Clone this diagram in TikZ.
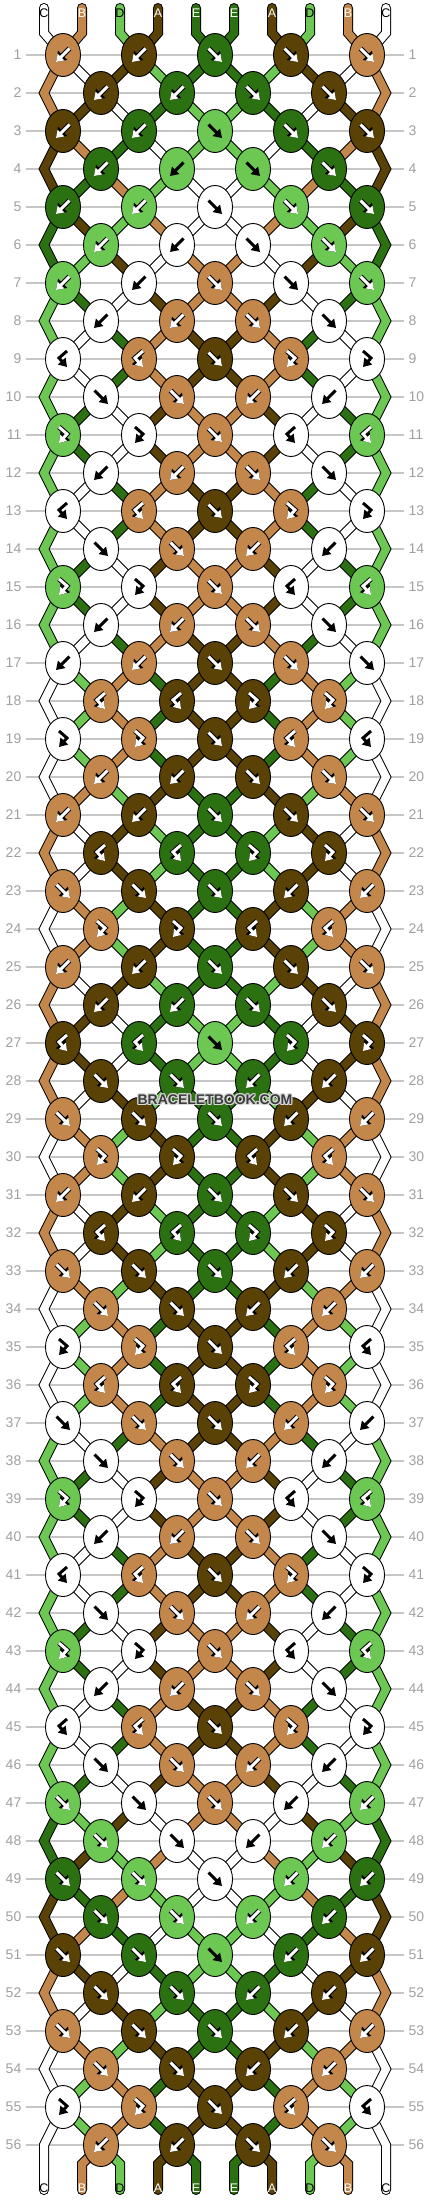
\documentclass[tikz,border=0pt]{standalone}
\usepackage{fontspec}
\setmainfont{Liberation Sans}
\usetikzlibrary{arrows.meta}
\definecolor{colA}{HTML}{5A4105}
\definecolor{colB}{HTML}{C4874B}
\definecolor{colC}{HTML}{FFFFFF}
\definecolor{colD}{HTML}{6CC853}
\definecolor{colE}{HTML}{2C7111}
\definecolor{rowgray}{HTML}{C6C6C6}
\definecolor{numgray}{HTML}{A0A0A0}
\definecolor{wmark}{HTML}{3C3C3C}
\tikzset{
  knot/.style={draw=black, line width=0.9pt},
  strout/.style={draw=black, line width=10pt, line cap=round, line join=miter},
  strin/.style={draw=#1, line width=8pt, line cap=round, line join=miter},
  arrowout/.style={draw=black, line width=5pt, -{Triangle[length=9.5pt,width=12.5pt]}},
  arrowin/.style={draw=white, line width=3pt, -{Triangle[length=7pt,width=9pt]}},
  arrowblk/.style={draw=black, line width=3pt, -{Triangle[length=8pt,width=10pt]}},
  rownum/.style={text=numgray, font=\fontsize{14}{14}\selectfont, inner sep=0pt},
  strlab/.style={font=\fontsize{12.5}{12.5}\selectfont, inner sep=0pt},
  wm/.style={font=\bfseries\fontsize{14}{14}\selectfont, inner sep=0pt},
}
\def\strcol#1{\ifcase#1 colC\or colB\or colD\or colA\or colE\or colE\or colA\or colD\or colB\or colC\fi}
\def\colCname{colC}
\def\colDname{colD}
\def\appendpath#1#2{\expandafter\xdef\csname kpath#1\endcsname{\csname kpath#1\endcsname\space -- #2}}
\def\doswap{\expandafter\xdef\csname at\kp\endcsname{\sidR}\expandafter\xdef\csname at\kq\endcsname{\sidL}}
\newcommand\drawknot[5]{%
  \filldraw[knot, fill=#3] (#1,#2) ellipse [x radius=17.5pt, y radius=21.5pt];
  \csname knarr#4\endcsname{#1}{#2}{#5}}
\newcommand\knarrf[3]{\knarrow{#3}{(#1-6.5,#2-6.5) -- (#1+7,#2+7)}}
\newcommand\knarrb[3]{\knarrow{#3}{(#1+6.5,#2-6.5) -- (#1-7,#2+7)}}
\newcommand\knarrr[3]{\knarrow{#3}{(#1-4,#2-8) -- (#1+4,#2-1) -- (#1-4,#2+8)}}
\newcommand\knarrl[3]{\knarrow{#3}{(#1+4,#2-8) -- (#1-4,#2-1) -- (#1+4,#2+8)}}
\newcommand\knarrow[2]{\csname knarrow#1\endcsname{#2}}
\newcommand\knarroww[1]{\draw[arrowout] #1; \draw[arrowin] #1;}
\newcommand\knarrowk[1]{\draw[arrowblk] #1;}
\begin{document}
\begin{tikzpicture}[x=1pt,y=-1pt]
\fill[white] (0,0) rectangle (430,2200);
\useasboundingbox (0,0) rectangle (430,2200);
% ---- simulation ----
\foreach \p in {0,...,9}{%
  \pgfmathsetmacro\xp{44+38*\p}%
  \expandafter\xdef\csname at\p\endcsname{\p}%
  \expandafter\xdef\csname kpath\p\endcsname{(\xp,8) -- (\xp,33)}%
}
\gdef\knotlist{}
\foreach \ktypes [count=\rr] in {
 {b,b,f,f,f},{b,b,f,f},{b,b,f,f,f},{b,b,f,f},{b,b,f,f,f},{b,b,f,f},{b,b,f,f,f},{b,b,f,f},
 {l,l,f,r,r},{f,f,b,b},{r,r,f,l,l},{b,b,f,f},{l,l,f,r,r},{f,f,b,b},{r,r,f,l,l},{b,b,f,f},
 {b,b,f,f,f},{l,l,r,r},{r,r,f,l,l},{b,b,f,f},{b,b,f,f,f},{l,l,r,r},{f,f,f,b,b},{r,r,l,l},
 {b,b,f,f,f},{b,b,f,f},{l,l,f,r,r},{f,f,b,b},{f,f,f,b,b},{r,r,l,l},{b,b,f,f,f},{l,l,r,r},
 {f,f,f,b,b},{f,f,b,b},{r,r,f,l,l},{l,l,r,r},{f,f,f,b,b},{f,f,b,b},{r,r,f,l,l},{b,b,f,f},
 {l,l,f,r,r},{f,f,b,b},{r,r,f,l,l},{b,b,f,f},{l,l,f,r,r},{f,f,b,b},{f,f,f,b,b},{f,f,b,b},
 {f,f,f,b,b},{f,f,b,b},{f,f,f,b,b},{f,f,b,b},{f,f,f,b,b},{f,f,b,b},{r,r,f,l,l},{b,b,f,f}}{%
  \pgfmathsetmacro\y{55+38*(\rr-1)}%
  \pgfmathtruncatemacro\rowoff{mod(\rr+1,2)}%
  \ifnum\rowoff=1
    \edef\sidL{\csname at0\endcsname}\appendpath{\sidL}{(44,\y)}%
    \edef\sidR{\csname at9\endcsname}\appendpath{\sidR}{(386,\y)}%
  \fi
  \foreach \ktype [count=\kk] in \ktypes {%
    \pgfmathtruncatemacro\kp{2*(\kk-1)+\rowoff}%
    \pgfmathtruncatemacro\kq{\kp+1}%
    \pgfmathsetmacro\cx{63+76*(\kk-1)+38*\rowoff}%
    \edef\sidL{\csname at\kp\endcsname}%
    \edef\sidR{\csname at\kq\endcsname}%
    \appendpath{\sidL}{(\cx,\y)}%
    \appendpath{\sidR}{(\cx,\y)}%
    \edef\kc{\if\ktype f\strcol{\sidL}\else\if\ktype r\strcol{\sidL}\else\strcol{\sidR}\fi\fi}%
    \def\ac{w}%
    \ifx\kc\colCname\def\ac{k}\fi
    \ifx\kc\colDname
      \ifnum\rr=4 \def\ac{k}\fi
      \ifnum\rowoff=0 \ifnum\kk=3 \def\ac{k}\fi\fi
    \fi
    \xdef\knotlist{\unexpanded\expandafter{\knotlist}\noexpand\drawknot{\cx}{\y}{\kc}{\ktype}{\ac}}%
    \if\ktype f\doswap\fi
    \if\ktype b\doswap\fi
  }%
}
\foreach \p in {0,...,9}{%
  \pgfmathsetmacro\xp{44+38*\p}%
  \edef\sidL{\csname at\p\endcsname}%
  \appendpath{\sidL}{(\xp,2164) -- (\xp,2190)}%
}
% ---- row guide lines and numbers ----
\foreach \rr in {1,...,56}{%
  \pgfmathsetmacro\y{55+38*(\rr-1)}%
  \draw[rowgray, line width=1.2pt] (26,\y) -- (404,\y);
  \node[rownum, anchor=east] (nl\rr) at (21.5,\y) {\rr};
  \node[rownum, anchor=west] (nr\rr) at (408.5,\y) {\rr};
}
% ---- strings ----
\foreach \sid in {0,...,9}{%
  \edef\tmp{\noexpand\draw[strout] \csname kpath\sid\endcsname;}\tmp
}
\foreach \sid in {0,...,9}{%
  \edef\tmp{\noexpand\draw[strin=\strcol{\sid}] \csname kpath\sid\endcsname;}\tmp
}
% ---- knots ----
\knotlist
% ---- string labels ----
\foreach \p/\lab/\tc in {0/C/black,1/B/white,2/D/black,3/A/white,4/E/white,5/E/white,6/A/white,7/D/black,8/B/white,9/C/black}{%
  \node[strlab, text=\tc] (top\p) at ({44+38*\p},13) {\lab};
  \node[strlab, text=\tc] (bot\p) at ({44+38*\p},2188) {\lab};
}
% ---- watermark ----
\foreach \dx/\dy in {-1/0,1/0,0/-1,0/1,-1/-1,1/1,-1/1,1/-1}{%
  \node[wm, text=white!85!black] at (215+\dx,1100+\dy) {BRACELETBOOK.COM};
}
\node[wm, text=wmark] (wmk) at (215,1100) {BRACELETBOOK.COM};
\end{tikzpicture}
\end{document}
